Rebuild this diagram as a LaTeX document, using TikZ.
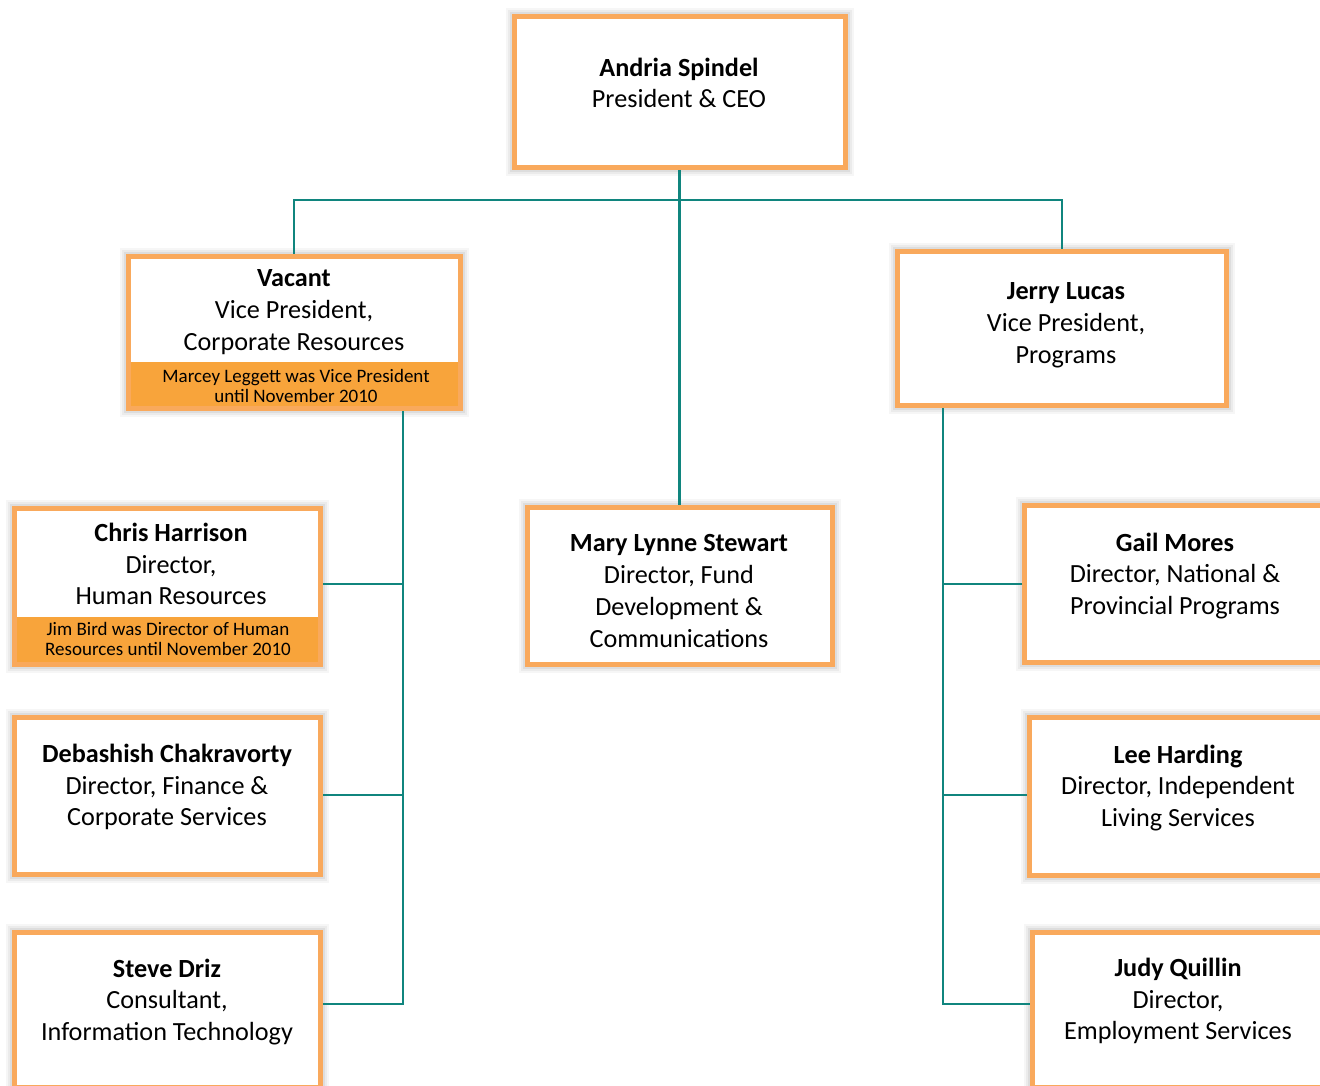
\documentclass[tikz,border=0pt]{standalone}
\usepackage{fontspec}
\setmainfont{Carlito}
\definecolor{bordero}{HTML}{F9A95C}
\definecolor{bando}{HTML}{F8A43B}
\definecolor{teal}{HTML}{10857E}
\tikzset{
  orgbox/.style={draw=bordero, line width=5pt, fill=white, inner sep=0pt,
    preaction={draw=black, draw opacity=0.035, line width=17pt},
    preaction={draw=black, draw opacity=0.045, line width=13pt},
    preaction={draw=black, draw opacity=0.06, line width=9pt}},
  borderline/.style={draw=bordero, line width=5pt},
  maintext/.style={align=center, font=\fontsize{26.2}{31.8}\selectfont, inner sep=0pt},
  notetext/.style={align=center, font=\fontsize{19}{20.3}\selectfont, inner sep=0pt},
  link/.style={draw=teal, line width=2.5pt}
}
\begin{document}
\begin{tikzpicture}[x=1pt,y=-1pt]
\useasboundingbox (0,0) rectangle (1320,1086);
\clip (0,0) rectangle (1320,1086);
\fill[white] (0,0) rectangle (1320,1086);

\coordinate (bar) at (679.5,200);
\coordinate (lt) at (403,1004);
\coordinate (rt) at (943,1004);

% boxes
\node[orgbox, minimum width=331, minimum height=151] (ceo) at (679.5,92) {};
\node[orgbox, minimum width=332, minimum height=152] (vacant) at (294,332.5) {};
\node[orgbox, minimum width=329, minimum height=154] (jerry) at (1062,328.5) {};
\node[orgbox, minimum width=306, minimum height=156] (chris) at (167.5,586.5) {};
\node[orgbox, minimum width=305, minimum height=157] (mary) at (679.5,586) {};
\node[orgbox, minimum width=306, minimum height=157] (deb) at (167.5,796) {};
\node[orgbox, minimum width=306, minimum height=155] (steve) at (167.5,1010) {};
\node[orgbox, minimum width=301, minimum height=157] (gail) at (1175,584) {};
\node[orgbox, minimum width=301, minimum height=158] (lee) at (1180,796.5) {};
\node[orgbox, minimum width=301, minimum height=155] (judy) at (1183,1010) {};

% orange bands, then border redrawn on top
\fill[bando] ([xshift=2.5pt]vacant.south west |- 0,362) rectangle ([shift={(-2.5pt,2.5pt)}]vacant.south east);
\fill[bando] ([xshift=2.5pt]chris.south west |- 0,617) rectangle ([shift={(-2.5pt,2.5pt)}]chris.south east);
\draw[borderline] ([shift={(2.5pt,2.5pt)}]vacant.south west) rectangle ([shift={(-2.5pt,-2.5pt)}]vacant.north east);
\draw[borderline] ([shift={(2.5pt,2.5pt)}]chris.south west) rectangle ([shift={(-2.5pt,-2.5pt)}]chris.north east);

% connectors
\draw[link] (ceo.south) -- (mary.north);
\draw[link] (vacant.north) |- (bar) -| (jerry.north);
\draw[link] (vacant.south -| lt) -- (lt) -- (steve.east |- lt);
\draw[link] (chris.east |- 0,584) -- (403,584);
\draw[link] (deb.east |- 0,795) -- (403,795);
\draw[link] (jerry.south -| rt) -- (rt) -- (judy.west |- rt);
\draw[link] (gail.west) -- (gail.west -| rt);
\draw[link] (lee.west |- 0,795) -- (943,795);

% texts
\node[maintext] (tceo) at (679,83) {\textbf{Andria Spindel}\\President \& CEO};
\node[maintext] (tvac) at (294,312) {\textbf{Vacant}\\Vice President,\\Corporate Resources};
\node[notetext] (nvac) at (296,386) {Marcey Leggett was Vice President\\until November 2010};
\node[maintext] (tjer) at (1066,325) {\textbf{Jerry Lucas}\\Vice President,\\Programs};
\node[maintext] (tchr) at (171,564) {\textbf{Chris Harrison}\\Director,\\Human Resources};
\node[notetext] (nchr) at (168,639) {Jim Bird was Director of Human\\Resources until November 2010};
\node[maintext] (tmar) at (679,591) {\textbf{Mary Lynne Stewart}\\Director, Fund\\Development \&\\Communications};
\node[maintext] (tdeb) at (167,787) {\textbf{Debashish Chakravorty}\\Director, Finance \&\\Corporate Services};
\node[maintext] (tste) at (167,1002) {\textbf{Steve Driz}\\Consultant,\\Information Technology};
\node[maintext] (tgai) at (1175,576) {\textbf{Gail Mores}\\Director, National \&\\Provincial Programs};
\node[maintext] (tlee) at (1178,788) {\textbf{Lee Harding}\\Director, Independent\\Living Services};
\node[maintext] (tjud) at (1178,1001) {\textbf{Judy Quillin}\\Director,\\Employment Services};
\end{tikzpicture}
\end{document}
